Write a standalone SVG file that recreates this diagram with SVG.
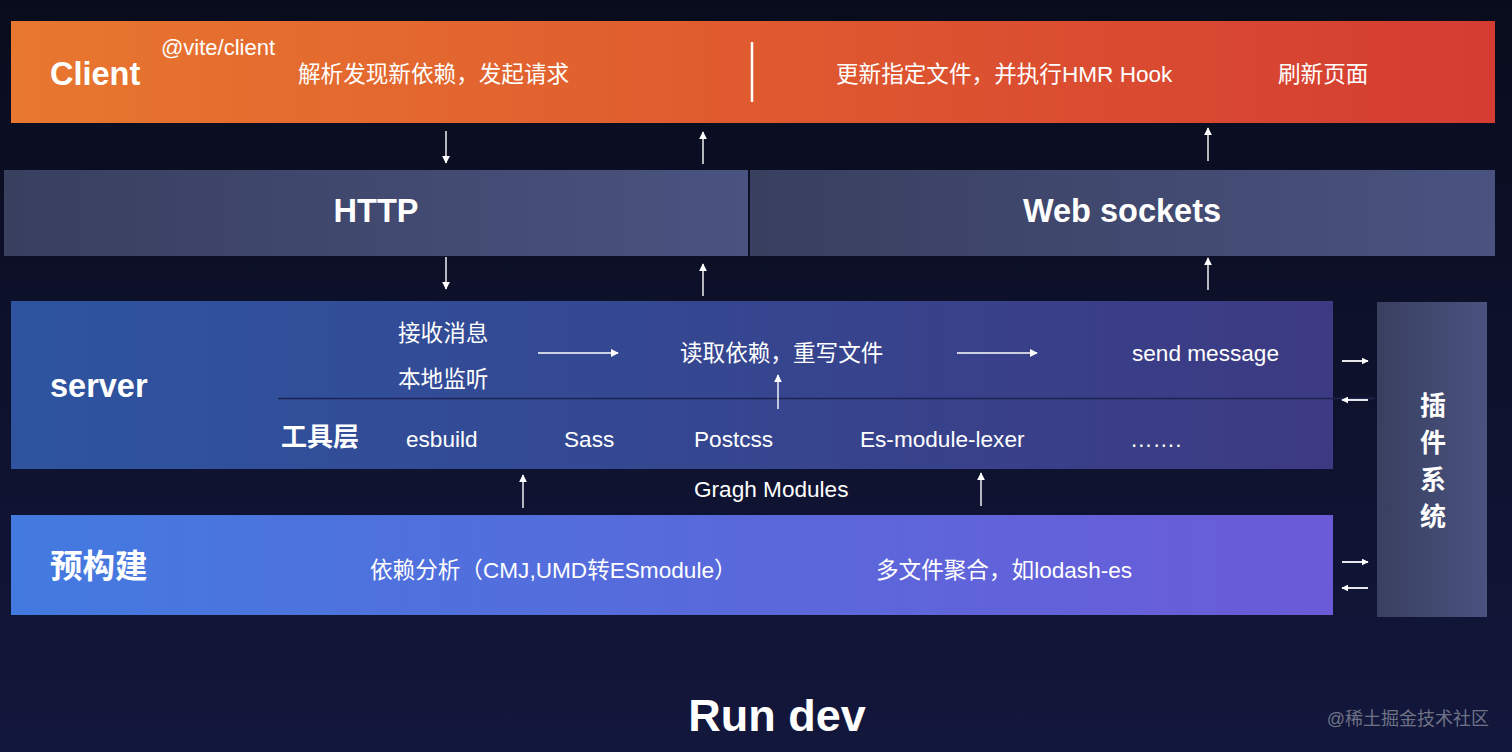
<svg xmlns="http://www.w3.org/2000/svg" width="1512" height="752" viewBox="0 0 1512 752">
<defs>
<linearGradient id="bg" x1="0" y1="0" x2="0" y2="1">
<stop offset="0" stop-color="#090c1c"/>
<stop offset="1" stop-color="#12173c"/>
</linearGradient>
<linearGradient id="gClient" x1="0" y1="0" x2="1" y2="0">
<stop offset="0" stop-color="#e8772f"/>
<stop offset="0.5" stop-color="#df5a2f"/>
<stop offset="1" stop-color="#d43c32"/>
</linearGradient>
<linearGradient id="gGray" x1="0" y1="0" x2="1" y2="0">
<stop offset="0" stop-color="#383f5f"/>
<stop offset="1" stop-color="#4a5380"/>
</linearGradient>
<linearGradient id="gServer" x1="0" y1="0" x2="1" y2="0">
<stop offset="0" stop-color="#2e54a0"/>
<stop offset="1" stop-color="#3c3a82"/>
</linearGradient>
<linearGradient id="gPre" x1="0" y1="0" x2="1" y2="0">
<stop offset="0" stop-color="#437ae0"/>
<stop offset="1" stop-color="#6b5bd8"/>
</linearGradient>
<marker id="ah" viewBox="0 0 10 10" refX="9" refY="5" markerWidth="7" markerHeight="7" markerUnits="userSpaceOnUse" orient="auto">
<path d="M0,0 L10,5 L0,10 z" fill="#ffffff"/>
</marker>
<marker id="ah2" viewBox="0 0 10 10" refX="9" refY="5" markerWidth="8" markerHeight="8" markerUnits="userSpaceOnUse" orient="auto">
<path d="M0,0 L10,5 L0,10 z" fill="#ffffff"/>
</marker>
</defs>
<style>
text{font-family:"Liberation Sans","Noto Sans CJK SC",sans-serif;fill:#ffffff;}
.title{font-size:32.5px;font-weight:bold;}
.band{font-size:32.5px;font-weight:bold;}
.t{font-size:22.6px;}
.sm{font-size:22px;}
.tool{font-size:26px;font-weight:bold;}
.arr{stroke:#ffffff;stroke-width:1.4;fill:none;marker-end:url(#ah2);}
.sarr{stroke:#ffffff;stroke-width:1.8;fill:none;marker-end:url(#ah);}
</style>
<rect x="0" y="0" width="1512" height="752" fill="url(#bg)"/>

<g id="client">
<rect x="11" y="21" width="1484" height="102" fill="url(#gClient)"/>
<line x1="752" y1="42" x2="752" y2="102" stroke="#ffffff" stroke-width="2.5"/>
<text class="title" x="50" y="85">Client</text>
<text class="sm" x="161" y="55">@vite/client</text>
<text class="t" x="298" y="82">解析发现新依赖，发起请求</text>
<text class="t" x="836" y="82">更新指定文件，并执行HMR Hook</text>
<text class="t" x="1278" y="82">刷新页面</text>
</g>

<g id="http">
<rect x="4" y="170" width="744" height="86" fill="url(#gGray)"/>
<text class="band" x="376" y="222" text-anchor="middle">HTTP</text>
</g>

<g id="websockets">
<rect x="750" y="170" width="745" height="86" fill="url(#gGray)"/>
<text class="band" x="1122" y="222" text-anchor="middle">Web sockets</text>
</g>

<g id="server">
<rect x="11" y="301" width="1322" height="168" fill="url(#gServer)"/>
<line x1="278" y1="398.5" x2="1375" y2="398.5" stroke="#1c2452" stroke-width="1.5"/>
<text class="title" x="50" y="397">server</text>
<text class="t" x="398" y="341">接收消息</text>
<text class="t" x="398" y="387">本地监听</text>
<text class="t" x="680" y="361">读取依赖，重写文件</text>
<text class="t" x="1132" y="361">send message</text>
<text class="tool" x="281" y="446">工具层</text>
<text class="t" x="406" y="447">esbuild</text>
<text class="t" x="564" y="447">Sass</text>
<text class="t" x="694" y="447">Postcss</text>
<text class="t" x="860" y="447">Es-module-lexer</text>
<text class="t" x="1130" y="447">…….</text>
</g>

<g id="prebuild">
<rect x="11" y="515" width="1322" height="100" fill="url(#gPre)"/>
<text class="title" x="50" y="578">预构建</text>
<text class="t" x="370" y="578">依赖分析（CMJ,UMD转ESmodule）</text>
<text class="t" x="876" y="578">多文件聚合，如lodash-es</text>
</g>

<g id="plugin">
<rect x="1377" y="302" width="110" height="315" fill="url(#gGray)"/>
<text class="tool" x="1433" y="415" text-anchor="middle">插</text>
<text class="tool" x="1433" y="452" text-anchor="middle">件</text>
<text class="tool" x="1433" y="489" text-anchor="middle">系</text>
<text class="tool" x="1433" y="526" text-anchor="middle">统</text>
</g>

<g id="labels">
<text class="t" x="694" y="497">Gragh Modules</text>
<text x="777" y="731" text-anchor="middle" style="font-size:45px;font-weight:bold">Run dev</text>
<text x="1489" y="725" text-anchor="end" style="font-size:18px;fill:#6f7386">@稀土掘金技术社区</text>
</g>

<g id="connectors">
<line class="arr" x1="446" y1="131" x2="446" y2="163"/>
<line class="arr" x1="703" y1="164" x2="703" y2="132"/>
<line class="arr" x1="1208" y1="161" x2="1208" y2="128"/>
<line class="arr" x1="446" y1="257" x2="446" y2="289"/>
<line class="arr" x1="703" y1="296" x2="703" y2="264"/>
<line class="arr" x1="1208" y1="290" x2="1208" y2="258"/>
<line class="arr" x1="538" y1="353" x2="618" y2="353"/>
<line class="arr" x1="957" y1="353" x2="1037" y2="353"/>
<line class="arr" x1="778" y1="409" x2="778" y2="375"/>
<line class="arr" x1="523" y1="508" x2="523" y2="475"/>
<line class="arr" x1="981" y1="506" x2="981" y2="473"/>
<line class="sarr" x1="1342" y1="361" x2="1368" y2="361"/>
<line class="sarr" x1="1368" y1="400" x2="1342" y2="400"/>
<line class="sarr" x1="1342" y1="562" x2="1368" y2="562"/>
<line class="sarr" x1="1368" y1="588" x2="1342" y2="588"/>
</g>
</svg>
